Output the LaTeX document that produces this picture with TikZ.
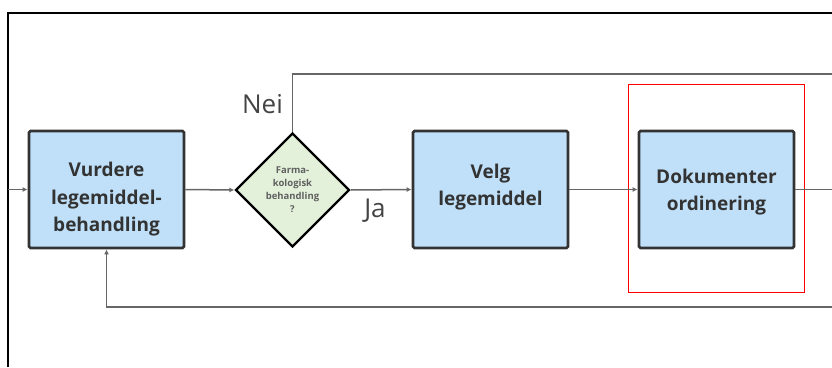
\documentclass[tikz,border=0pt]{standalone}
\usepackage{fontspec}
\setmainfont{Open Sans}
\usetikzlibrary{shapes.geometric,arrows.meta}
\definecolor{boxfill}{HTML}{BFE0F8}
\definecolor{decfill}{HTML}{E3F1DA}
\definecolor{edgegray}{HTML}{333333}
\definecolor{linegray}{HTML}{666666}
\definecolor{labelgray}{HTML}{444444}
% invisible struts that nudge a block of lines down (extra height) or up (extra depth)
\newcommand{\padtop}[1]{\rule{0pt}{#1}}
\newcommand{\padbottom}[1]{\rule[-#1]{0pt}{0pt}}
\tikzset{
  processbox/.style={draw=edgegray, line width=2.8pt, fill=boxfill, rounded corners=1.5pt,
    minimum width=155pt, minimum height=117pt, align=center, inner sep=0pt,
    font=\fontsize{19}{27.5}\selectfont\bfseries, text=edgegray},
  decision/.style={diamond, draw=black, line width=2.4pt, fill=decfill, aspect=1,
    minimum width=114pt, minimum height=114pt, inner sep=0pt, align=center,
    font=\fontsize{9.5}{13}\selectfont\bfseries, text=labelgray!85},
  flow/.style={draw=linegray, line width=1.5pt, -{Latex[length=5pt,width=5pt]}},
  plainflow/.style={draw=linegray, line width=1.5pt},
  branchlabel/.style={font=\fontsize{26}{28}\selectfont, text=labelgray, inner sep=0pt},
}
\begin{document}
\begin{tikzpicture}[x=1pt, y=-1pt]
  \useasboundingbox (0,0) rectangle (832,367);
  % outer frame
  \draw[black, line width=2pt] (8,367) -- (8,13) -- (832,13);

  % nodes
  \node[processbox] (vurdere) at (106.5,189.5) {\padtop{34.4pt}Vurdere\\legemiddel-\\behandling};
  \node[decision] (farma) at (292.5,190) {Farma-\\kologisk\\behandling\\?};
  \node[processbox] (velg) at (490.5,189.5) {Velg\\legemiddel\padbottom{9.6pt}};
  \node[processbox] (dok) at (716.5,189.5) {\padtop{19.4pt}Dokumenter\\ordinering};

  % highlight
  \node[draw=red, line width=1.6pt, minimum width=176pt, minimum height=208pt, inner sep=0pt]
    (mark) at (716.5,188.5) {};

  % free ends
  \coordinate (inL) at (8,189.5);
  \coordinate (outR) at (832,189.5);
  \coordinate (topR) at (832,74);
  \coordinate (botR) at (832,307);

  % connectors
  \draw[flow] (inL) -- (vurdere.west);
  \draw[flow] (vurdere.east) -- (farma.west);
  \draw[flow] (farma.east) -- (velg.west);
  \draw[flow] (velg.east) -- (dok.west);
  \draw[plainflow] (dok.east) -- (outR);
  \draw[plainflow] (farma.north) -- (farma.north |- topR) -- (topR);
  \draw[flow] (botR) -- (vurdere.south |- botR) -- (vurdere.south);

  % branch labels
  \node[branchlabel] (nei) at (262.5,104) {Nei};
  \node[branchlabel] (ja) at (375,211) {Ja};
\end{tikzpicture}
\end{document}
